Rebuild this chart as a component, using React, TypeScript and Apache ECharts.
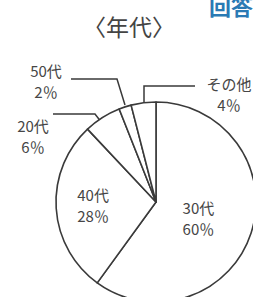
import React, { useEffect, useRef } from 'react';
import * as echarts from 'echarts';

const categories = ['30代', '40代', '20代', '50代', 'その他'];
const values = [60, 28, 6, 2, 4];
const titleText = '〈年代〉';
const cornerText = '回答';

const FONT = '"Noto Sans CJK JP", "Noto Sans", sans-serif';
const LINE = '#3a3a3a';
const TEXT = '#464646';

export default function App() {
  const ref = useRef<HTMLDivElement>(null);
  useEffect(() => {
    const chart = echarts.init(ref.current!, null, { renderer: 'svg' });
    const outside: Record<number, any> = {
      2: { x: 33, y: 136, align: 'center', verticalAlign: 'middle', labelLinePoints: [[105, 127], [95, 114], [53, 114]] },
      3: { x: 46, y: 81, align: 'center', verticalAlign: 'middle', labelLinePoints: [[125, 105], [117, 79], [71, 79]] },
      4: { x: 229, y: 94, align: 'center', verticalAlign: 'middle', labelLinePoints: [[144, 106], [144, 86], [195, 86]] },
    };
    const inside: Record<number, number[]> = { 0: [-8, 0], 1: [-10, 0] };
    chart.setOption({
      animation: false,
      backgroundColor: '#fff',
      title: {
        text: titleText,
        left: 78,
        top: 9,
        textStyle: { fontFamily: FONT, fontSize: 23, fontWeight: 'normal', color: '#444' },
      },
      graphic: [
        {
          type: 'text',
          x: 209,
          y: -6,
          style: { text: cornerText, fontFamily: FONT, fontSize: 22, fontWeight: 'bold', fill: '#2a7ab4', verticalAlign: 'top' },
        },
      ],
      series: [
        {
          type: 'pie',
          center: [156, 202],
          radius: 100,
          startAngle: 90,
          clockwise: true,
          silent: true,
          avoidLabelOverlap: false,
          itemStyle: { color: '#fff', borderColor: LINE, borderWidth: 1.6 },
          label: {
            show: true,
            formatter: (p: any) => `${p.name}\n${p.value}％`,
            fontFamily: FONT,
            fontSize: 15,
            lineHeight: 21,
            color: TEXT,
            overflow: 'none',
          },
          labelLine: { show: true, lineStyle: { color: LINE, width: 1.5 } },
          labelLayout: (params: any) => ({ hideOverlap: false, ...(outside[params.dataIndex] || {}) }),
          data: categories.map((name, i) => ({
            name,
            value: values[i],
            label: inside[i] !== undefined ? { position: 'inside', offset: inside[i] } : { position: 'outside', overflow: 'none' },
            labelLine: { show: inside[i] === undefined },
          })),
        },
      ],
    });
    return () => chart.dispose();
  }, []);
  return (
    <div
      ref={ref}
      style={{ position: 'fixed', left: 0, top: 0, width: 253, height: 297, background: '#fff' }}
    />
  );
}
